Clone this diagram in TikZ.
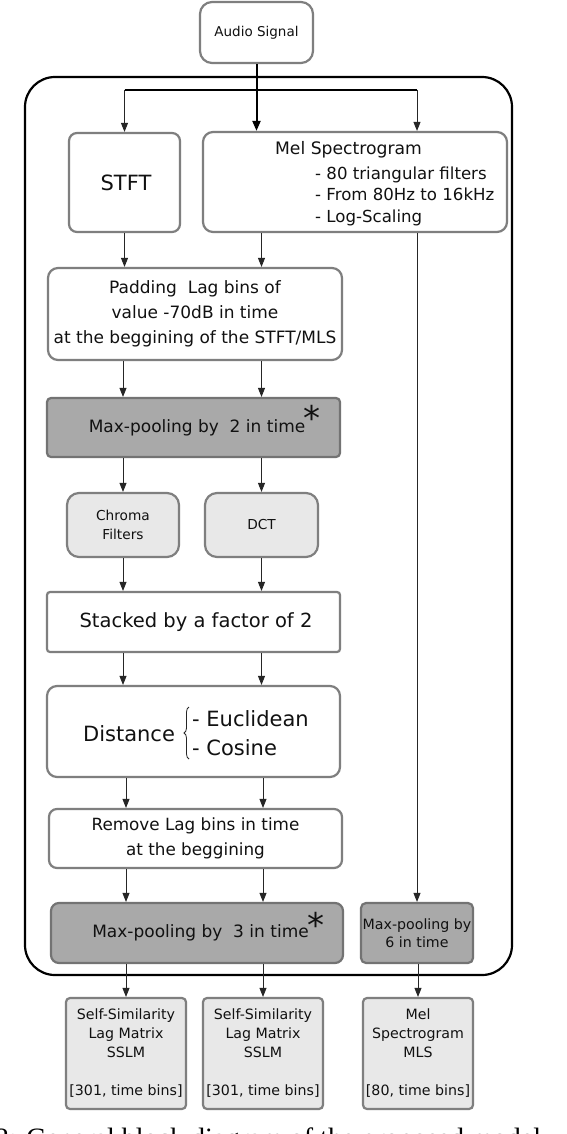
\documentclass[tikz,border=0pt]{standalone}
\usepackage{fontspec}
\setmainfont{DejaVu Sans}
\newfontfamily\capfont{Liberation Serif}
\usetikzlibrary{arrows.meta,decorations.pathreplacing}
\definecolor{bgray}{HTML}{7F7F7F}
\definecolor{dgray}{HTML}{A9A9A9}
\definecolor{lgray}{HTML}{E8E8E8}
\definecolor{tx}{HTML}{111111}
\newcommand{\fs}[2]{\fontsize{#1}{#2}\selectfont}
\tikzset{
  box/.style={draw=bgray, line width=2.2pt, rounded corners=8pt, fill=white,
    inner sep=0pt, align=center, text=tx},
  darkbox/.style={box, fill=dgray, draw=black!55, rounded corners=5pt},
  lightbox/.style={box, fill=lgray},
  arr/.style={-{Triangle[length=9pt,width=7pt]}, line width=0.9pt, draw=black!85},
  thickarr/.style={-{Triangle[length=10pt,width=8pt]}, line width=2pt, draw=black},
  frame/.style={draw=black, line width=2.2pt, rounded corners=30pt, inner sep=0pt},
  starnode/.style={inner sep=0pt, text=tx, font=\fs{34}{34}}
}
\begin{document}
\begin{tikzpicture}[x=1pt,y=-1pt]
\useasboundingbox (0,0) rectangle (566,1134);
\fill[white] (0,0) rectangle (566,1134);

% container
\node[frame, minimum width=487pt, minimum height=898pt] (frm) at (268.5,526) {};

% nodes
\node[box, rounded corners=12pt, minimum width=113pt, minimum height=61pt, font=\fs{13.5}{16}] (audio) at (256.5,32.5) {Audio Signal};
\node[box, minimum width=111pt, minimum height=99pt, font=\fs{21}{24}] (stft) at (124.5,182.5) {\hspace*{3pt}STFT};
\node[box, rounded corners=10pt, minimum width=304pt, minimum height=100pt] (mel) at (355,182) {};
\node[inner sep=0pt, text=tx, font=\fs{17.2}{20}] (meltitle) at (348.5,150) {Mel Spectrogram};
\node[inner sep=0pt, text=tx, anchor=west, align=left, font=\fs{16.6}{21.5}] (melb) at (315,196) {- 80 triangular filters\\- From 80Hz to 16kHz\\- Log-Scaling};

\node[box, rounded corners=10pt, minimum width=294pt, minimum height=92pt, font=\fs{17}{25}] (pad) at (195,314) {Padding\ \ Lag bins of\\value -70dB in time\\at the beggining of the STFT/MLS};
\node[darkbox, rounded corners=4pt, minimum width=293pt, minimum height=59pt, font=\fs{17}{20}] (mp2) at (193.5,427.5) {\hspace*{7pt}Max-pooling by\ \ 2 in time};
\node[starnode] (star1) at (312,418) {*};

\node[lightbox, rounded corners=12pt, minimum width=112pt, minimum height=64pt, font=\fs{13.7}{19}] (chroma) at (123,525) {Chroma\\Filters};
\node[lightbox, rounded corners=12pt, minimum width=113pt, minimum height=64pt, font=\fs{13.7}{19}] (dct) at (261.5,525) {DCT};

\node[box, rounded corners=3pt, minimum width=293pt, minimum height=60pt, font=\fs{19.5}{22}] (stack) at (193.5,622) {\hspace*{5pt}Stacked by a factor of 2};

\node[box, rounded corners=10pt, minimum width=293pt, minimum height=91pt] (dist) at (193.5,731.5) {};
\node[inner sep=0pt, text=tx, font=\fs{21}{24}] (distt) at (129,734) {Distance};
\node[inner sep=0pt, text=tx, anchor=west, font=\fs{21}{24}] (euc) at (192,719) {- Euclidean};
\node[inner sep=0pt, text=tx, anchor=west, font=\fs{21}{24}] (cos) at (192,748) {- Cosine};
\draw[line width=0.8pt, black!85, decorate, decoration={brace, amplitude=5pt}] (189,759) -- (189,707);

\node[box, rounded corners=8pt, minimum width=293pt, minimum height=59pt, font=\fs{16.8}{25}] (remove) at (195.5,838.5) {Remove Lag bins in time\\at the beggining};

\node[darkbox, rounded corners=8pt, minimum width=292pt, minimum height=60pt, font=\fs{17}{20}] (mp3) at (197,933) {\hspace*{7pt}Max-pooling by\ \ 3 in time};
\node[starnode] (star2) at (316,925) {*};
\node[darkbox, rounded corners=5pt, minimum width=112pt, minimum height=60pt, font=\fs{14.2}{18}] (mp6) at (417,933) {Max-pooling by\\6 in time};

\node[lightbox, rounded corners=4pt, minimum width=120pt, minimum height=111pt, font=\fs{14.2}{19}] (out1) at (126,1053.5) {Self-Similarity\\Lag Matrix\\SSLM\\[19pt]{[301, time bins]}};
\node[lightbox, rounded corners=4pt, minimum width=120pt, minimum height=111pt, font=\fs{14.2}{19}] (out2) at (263,1053.5) {Self-Similarity\\Lag Matrix\\SSLM\\[19pt]{[301, time bins]}};
\node[lightbox, rounded corners=4pt, minimum width=110pt, minimum height=111pt, font=\fs{14.2}{19}] (out3) at (418,1053.5) {Mel\\Spectrogram\\MLS\\[19pt]{[80, time bins]}};

% caption (cut off by the page edge)
\node[inner sep=0pt, anchor=base west, text=black, font=\capfont\fs{28}{28}] (cap) at (-5,1147) {2: General block diagram of the proposed model};

% connectors
\coordinate (split) at (256.5,90);
\draw[thickarr] (audio.south) -- (audio.south |- mel.north);
\draw[line width=1.5pt] (split -| stft) -- (split -| mp6);
\draw[arr] (split -| stft) -- (stft.north);
\draw[arr] (split -| mp6) -- (mel.north -| mp6);

\draw[arr] (stft.south) -- (pad.north -| stft);
\draw[arr] (mel.south -| dct) -- (pad.north -| dct);
\draw[arr] (mel.south -| mp6) -- (mp6.north);

\draw[arr] (pad.south -| chroma) -- (mp2.north -| chroma);
\draw[arr] (pad.south -| dct) -- (mp2.north -| dct);
\draw[arr] (mp2.south -| chroma) -- (chroma.north);
\draw[arr] (mp2.south -| dct) -- (dct.north);
\draw[arr] (chroma.south) -- (stack.north -| chroma);
\draw[arr] (dct.south) -- (stack.north -| dct);
\draw[arr] (stack.south -| chroma) -- (dist.north -| chroma);
\draw[arr] (stack.south -| dct) -- (dist.north -| dct);
\draw[arr] (dist.south -| out1) -- (remove.north -| out1);
\draw[arr] (dist.south -| out2) -- (remove.north -| out2);
\draw[arr] (remove.south -| out1) -- (mp3.north -| out1);
\draw[arr] (remove.south -| out2) -- (mp3.north -| out2);
\draw[arr] (mp3.south -| out1) -- (out1.north);
\draw[arr] (mp3.south -| out2) -- (out2.north);
\draw[arr] (mp6.south -| out3) -- (out3.north);
\end{tikzpicture}
\end{document}
